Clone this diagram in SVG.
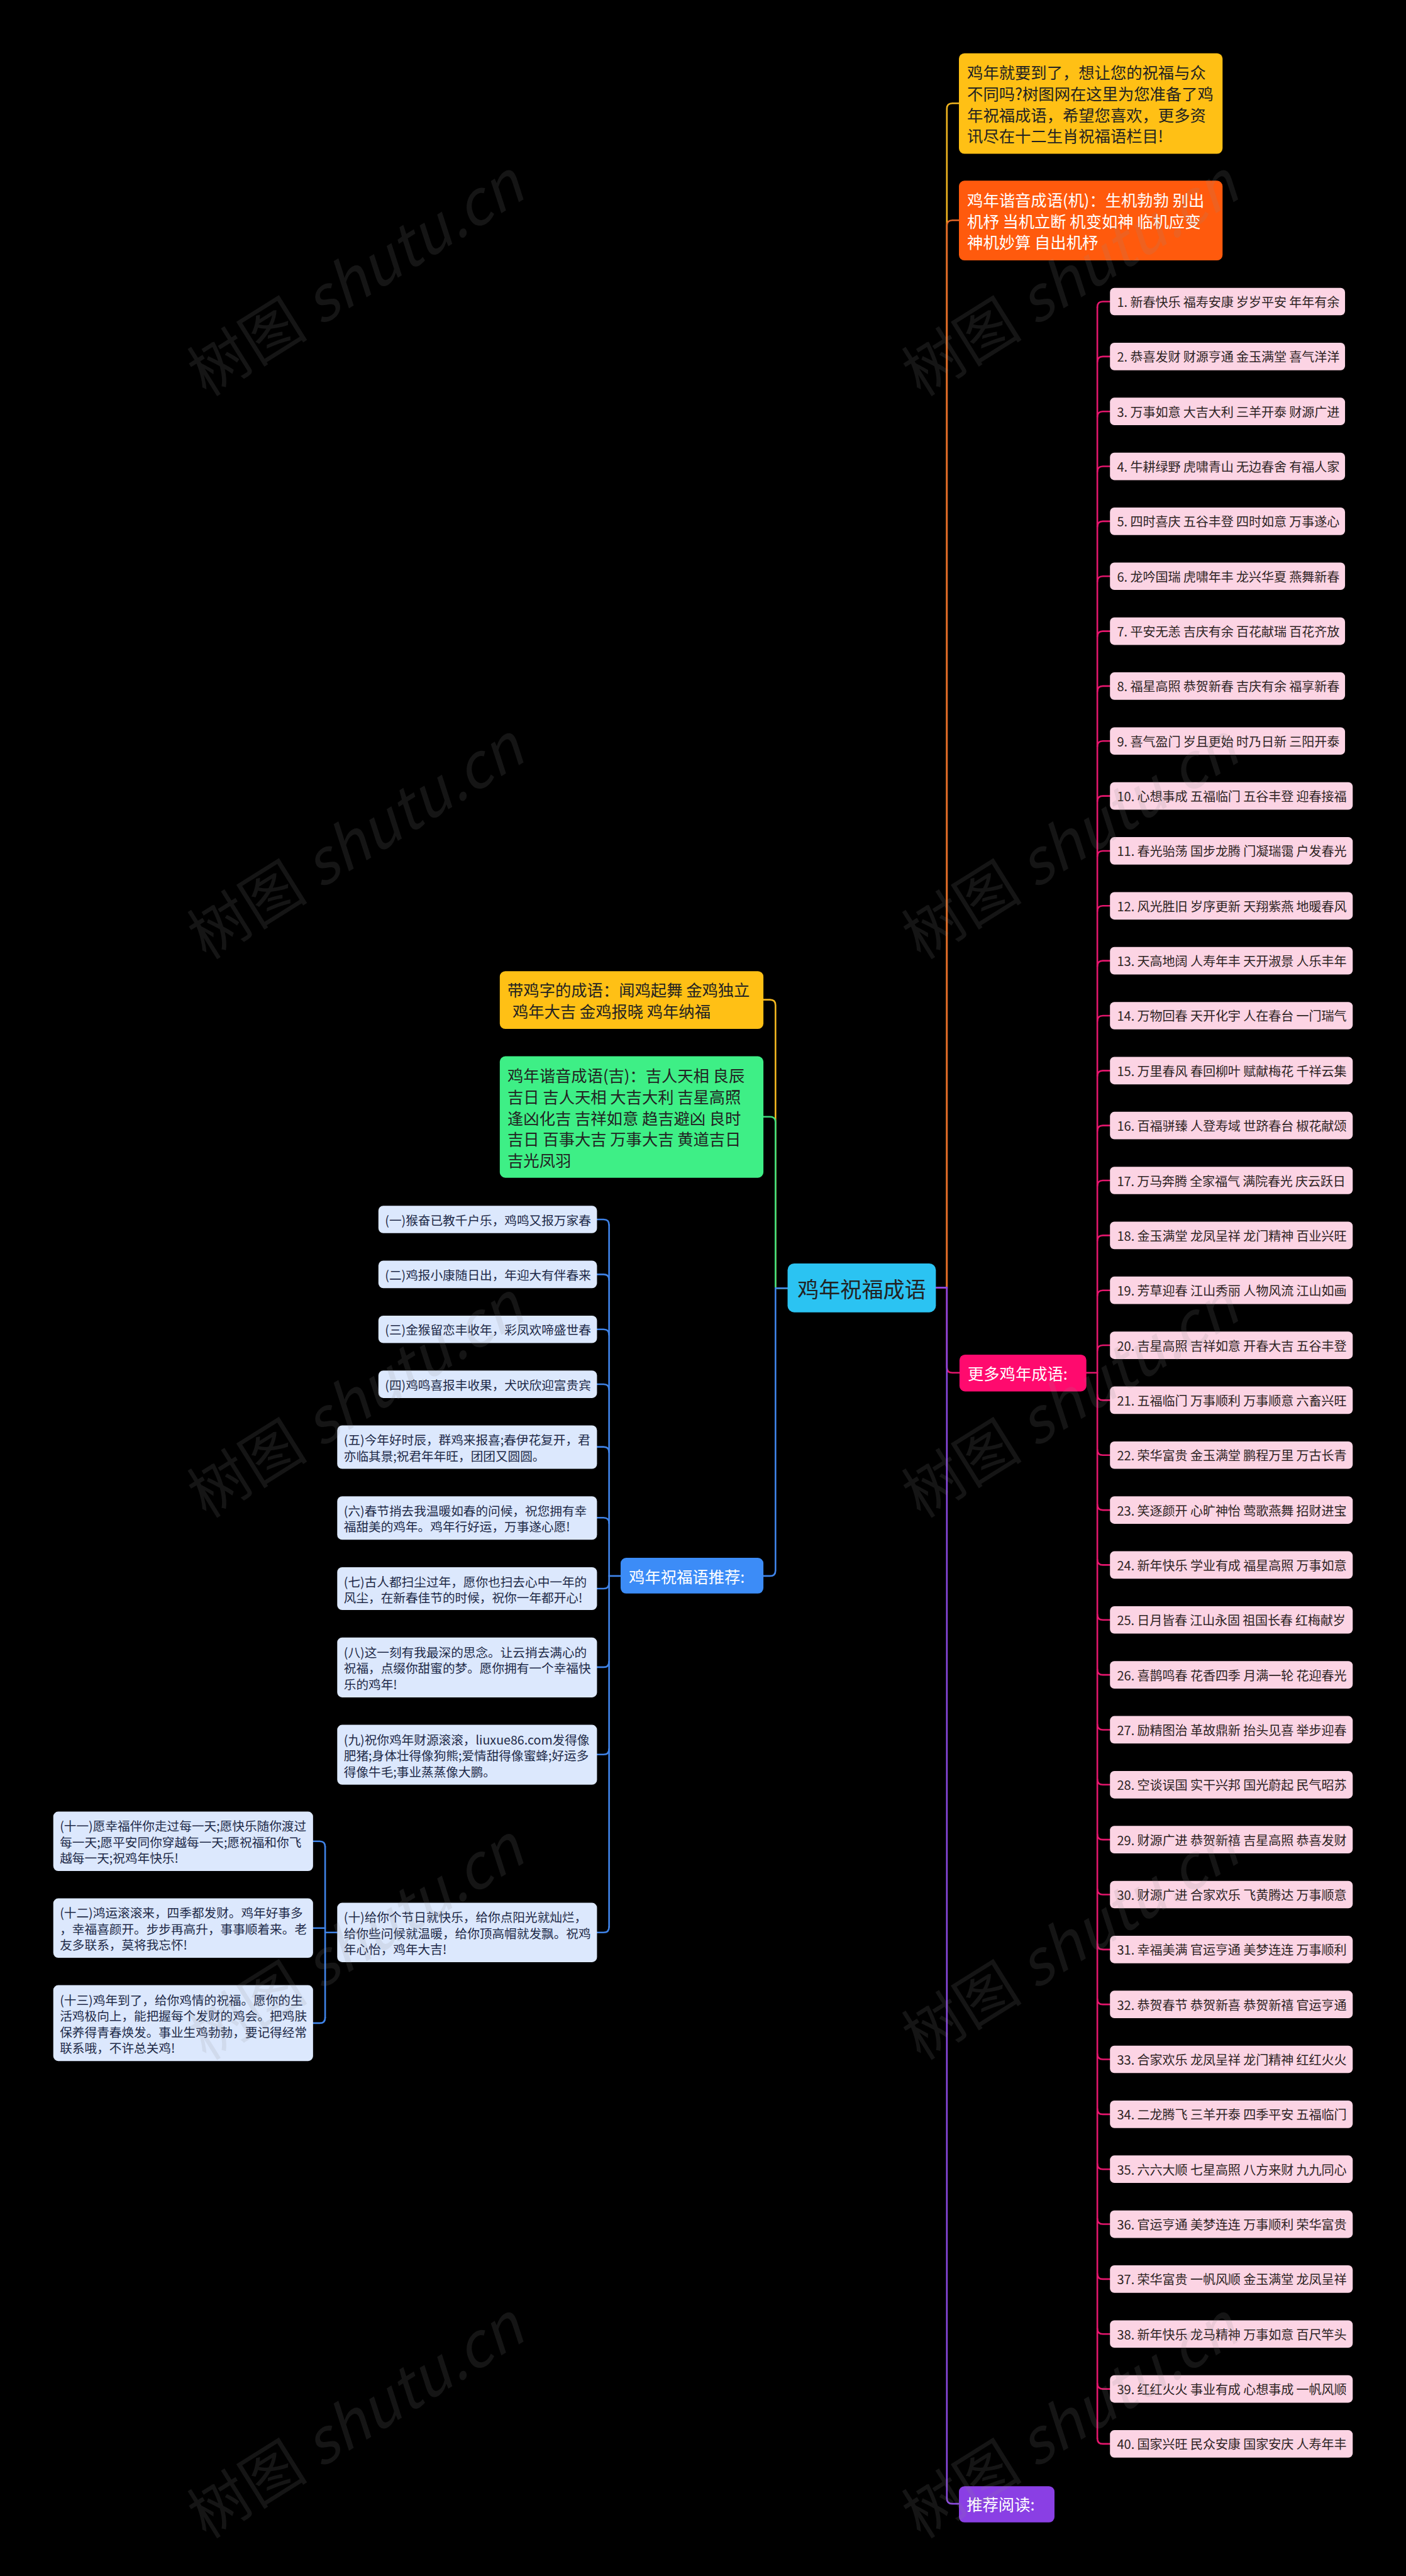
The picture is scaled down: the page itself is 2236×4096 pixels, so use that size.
<svg xmlns="http://www.w3.org/2000/svg" width="2236" height="4096" viewBox="0 0 2236 4096">
<style>
text{font-family:"Noto Sans CJK SC","Noto Sans",sans-serif;dominant-baseline:central}
.big{font-size:29px}
.dark{fill:#222}
.white{fill:#fff}
.kid{fill:#DCE8FD}
.kt{font-size:22.5px;fill:#1E2A48}
.it{fill:#FCD4E4}
.itt{font-size:23px;fill:#2E2424}
.c{fill:none;stroke-width:3;stroke-linecap:round}
.cy{stroke:#F2B620}.co{stroke:#E5682A}.cg{stroke:#3FDC7C}.cb{stroke:#3F83E8}.cp{stroke:#E3166C}.cv{stroke:#8A48E0}
.wm{font-family:"Liberation Serif","Noto Sans CJK SC",serif;font-size:110px;fill:#8a8a8a;fill-opacity:0.15}
</style>
<rect width="2236" height="4096" fill="#000"/>
<g transform="scale(0.8734375)">
<g id="connectors">
<path class="c cy" d="M1704,2344 H1724 V198 Q1724,188 1734,188 H1746"/>
<path class="c co" d="M1704,2344 H1724 V411 Q1724,401 1734,401 H1746"/>
<path class="c cp" d="M1704,2344 H1724 V2489 Q1724,2499 1734,2499 H1747"/>
<path class="c cv" d="M1704,2344 H1724 V4548 Q1724,4558 1734,4558 H1746"/>
<path class="c cy" d="M1434,2345 H1412 V1830 Q1412,1820 1402,1820 H1390"/>
<path class="c cg" d="M1434,2345 H1412 V2043 Q1412,2033 1402,2033 H1390"/>
<path class="c cb" d="M1434,2345 H1412 V2859 Q1412,2869 1402,2869 H1390"/>
<g class="c cb">
<path d="M1130,2869 H1109"/>
<path d="M1109,2230 V3508"/>
<path d="M1109,2230 Q1109,2220 1099,2220 H1087"/>
<path d="M1109,2330 Q1109,2320 1099,2320 H1087"/>
<path d="M1109,2430 Q1109,2420 1099,2420 H1087"/>
<path d="M1109,2530 Q1109,2520 1099,2520 H1087"/>
<path d="M1109,2644 Q1109,2634 1099,2634 H1087"/>
<path d="M1109,2773 Q1109,2763 1099,2763 H1087"/>
<path d="M1109,2882 Q1109,2892 1099,2892 H1087"/>
<path d="M1109,3025 Q1109,3035 1099,3035 H1087"/>
<path d="M1109,3184 Q1109,3194 1099,3194 H1087"/>
<path d="M1109,3508 Q1109,3518 1099,3518 H1087"/>
<path d="M614,3518 H592"/>
<path d="M592,3362 V3673"/>
<path d="M592,3362 Q592,3352 582,3352 H570"/>
<path d="M592,3510 H570"/>
<path d="M592,3673 Q592,3683 582,3683 H570"/>
</g>
<g class="c cp">
<path d="M1978,2499 H1998"/>
<path d="M1998,559 V4439"/>
<path d="M1998,559 Q1998,549 2008,549 H2021"/><path d="M1998,659 Q1998,649 2008,649 H2021"/><path d="M1998,759 Q1998,749 2008,749 H2021"/><path d="M1998,859 Q1998,849 2008,849 H2021"/><path d="M1998,959 Q1998,949 2008,949 H2021"/><path d="M1998,1059 Q1998,1049 2008,1049 H2021"/><path d="M1998,1159 Q1998,1149 2008,1149 H2021"/><path d="M1998,1259 Q1998,1249 2008,1249 H2021"/><path d="M1998,1359 Q1998,1349 2008,1349 H2021"/><path d="M1998,1459 Q1998,1449 2008,1449 H2021"/><path d="M1998,1559 Q1998,1549 2008,1549 H2021"/><path d="M1998,1659 Q1998,1649 2008,1649 H2021"/><path d="M1998,1759 Q1998,1749 2008,1749 H2021"/><path d="M1998,1859 Q1998,1849 2008,1849 H2021"/><path d="M1998,1959 Q1998,1949 2008,1949 H2021"/><path d="M1998,2059 Q1998,2049 2008,2049 H2021"/><path d="M1998,2159 Q1998,2149 2008,2149 H2021"/><path d="M1998,2259 Q1998,2249 2008,2249 H2021"/><path d="M1998,2359 Q1998,2349 2008,2349 H2021"/><path d="M1998,2459 Q1998,2449 2008,2449 H2021"/>
<path d="M1998,2539 Q1998,2549 2008,2549 H2021"/><path d="M1998,2639 Q1998,2649 2008,2649 H2021"/><path d="M1998,2739 Q1998,2749 2008,2749 H2021"/><path d="M1998,2839 Q1998,2849 2008,2849 H2021"/><path d="M1998,2939 Q1998,2949 2008,2949 H2021"/><path d="M1998,3039 Q1998,3049 2008,3049 H2021"/><path d="M1998,3139 Q1998,3149 2008,3149 H2021"/><path d="M1998,3239 Q1998,3249 2008,3249 H2021"/><path d="M1998,3339 Q1998,3349 2008,3349 H2021"/><path d="M1998,3439 Q1998,3449 2008,3449 H2021"/><path d="M1998,3539 Q1998,3549 2008,3549 H2021"/><path d="M1998,3639 Q1998,3649 2008,3649 H2021"/><path d="M1998,3739 Q1998,3749 2008,3749 H2021"/><path d="M1998,3839 Q1998,3849 2008,3849 H2021"/><path d="M1998,3939 Q1998,3949 2008,3949 H2021"/><path d="M1998,4039 Q1998,4049 2008,4049 H2021"/><path d="M1998,4139 Q1998,4149 2008,4149 H2021"/><path d="M1998,4239 Q1998,4249 2008,4249 H2021"/><path d="M1998,4339 Q1998,4349 2008,4349 H2021"/><path d="M1998,4439 Q1998,4449 2008,4449 H2021"/>
</g>
</g>

<g id="root"><rect x="1434" y="2300" width="270" height="89" rx="12" fill="#2BC3F2"/><text x="1569" y="2345" text-anchor="middle" font-size="39" class="dark">鸡年祝福成语</text></g>

<g id="intro"><rect x="1746" y="97" width="480" height="183" rx="10" fill="#FFC015"/>
<text class="big dark" x="1761"><tspan x="1761" y="131">鸡年就要到了，想让您的祝福与众</tspan><tspan x="1761" y="169.5">不同吗?树图网在这里为您准备了鸡</tspan><tspan x="1761" y="208">年祝福成语，希望您喜欢，更多资</tspan><tspan x="1761" y="246.5">讯尽在十二生肖祝福语栏目!</tspan></text></g>

<g id="ji-machine"><rect x="1746" y="329" width="480" height="145" rx="10" fill="#FF5A0D"/>
<text class="big white" x="1761"><tspan x="1761" y="363">鸡年谐音成语(机)：生机勃勃 别出</tspan><tspan x="1761" y="401.5">机杼 当机立断 机变如神 临机应变</tspan><tspan x="1761" y="440">神机妙算 自出机杼</tspan></text></g>

<g id="more"><rect x="1747" y="2466" width="231" height="67" rx="10" fill="#FF0A6E"/><text class="big white" x="1762" y="2499">更多鸡年成语:</text></g>

<g id="reading"><rect x="1746" y="4526" width="174" height="66" rx="10" fill="#8A3FE4"/><text class="big white" x="1760" y="4558">推荐阅读:</text></g>

<g id="ji-word"><rect x="910" y="1768" width="480" height="105" rx="10" fill="#FFC015"/>
<text class="big dark"><tspan x="924" y="1801">带鸡字的成语：闻鸡起舞 金鸡独立</tspan><tspan x="933" y="1840">鸡年大吉 金鸡报晓 鸡年纳福</tspan></text></g>

<g id="ji-luck"><rect x="910" y="1923" width="480" height="221" rx="10" fill="#3EEF86"/>
<text class="big dark"><tspan x="924" y="1957">鸡年谐音成语(吉)：吉人天相 良辰</tspan><tspan x="924" y="1995.5">吉日 吉人天相 大吉大利 吉星高照</tspan><tspan x="924" y="2034">逢凶化吉 吉祥如意 趋吉避凶 良时</tspan><tspan x="924" y="2072.5">吉日  百事大吉 万事大吉 黄道吉日</tspan><tspan x="924" y="2111">吉光凤羽</tspan></text></g>

<g id="wishes"><rect x="1130" y="2836" width="260" height="65" rx="10" fill="#3C8CF7"/><text class="big white" x="1145" y="2869">鸡年祝福语推荐:</text></g>

<g id="w1"><rect class="kid" x="689" y="2195" width="398" height="50" rx="9"/><text class="kt" x="701" y="2220">(一)猴奋已教千户乐，鸡鸣又报万家春</text></g>
<g id="w2"><rect class="kid" x="689" y="2295" width="398" height="50" rx="9"/><text class="kt" x="701" y="2320">(二)鸡报小康随日出，年迎大有伴春来</text></g>
<g id="w3"><rect class="kid" x="689" y="2395" width="398" height="50" rx="9"/><text class="kt" x="701" y="2420">(三)金猴留恋丰收年，彩凤欢啼盛世春</text></g>
<g id="w4"><rect class="kid" x="689" y="2495" width="398" height="50" rx="9"/><text class="kt" x="701" y="2520">(四)鸡鸣喜报丰收果，犬吠欣迎富贵宾</text></g>
<g id="w5"><rect class="kid" x="614" y="2595" width="473" height="79" rx="9"/><text class="kt"><tspan x="626" y="2620">(五)今年好时辰，群鸡来报喜;春伊花复开，君</tspan><tspan x="626" y="2649">亦临其景;祝君年年旺，团团又圆圆。</tspan></text></g>
<g id="w6"><rect class="kid" x="614" y="2724" width="473" height="79" rx="9"/><text class="kt"><tspan x="626" y="2749">(六)春节捎去我温暖如春的问候，祝您拥有幸</tspan><tspan x="626" y="2778">福甜美的鸡年。鸡年行好运，万事遂心愿!</tspan></text></g>
<g id="w7"><rect class="kid" x="614" y="2853" width="473" height="78" rx="9"/><text class="kt"><tspan x="626" y="2878">(七)古人都扫尘过年，愿你也扫去心中一年的</tspan><tspan x="626" y="2907">风尘，在新春佳节的时候，祝你一年都开心!</tspan></text></g>
<g id="w8"><rect class="kid" x="614" y="2981" width="473" height="109" rx="9"/><text class="kt"><tspan x="626" y="3006.5">(八)这一刻有我最深的思念。让云捎去满心的</tspan><tspan x="626" y="3035.5">祝福，点缀你甜蜜的梦。愿你拥有一个幸福快</tspan><tspan x="626" y="3064.5">乐的鸡年!</tspan></text></g>
<g id="w9"><rect class="kid" x="614" y="3140" width="473" height="109" rx="9"/><text class="kt"><tspan x="626" y="3165.5">(九)祝你鸡年财源滚滚，liuxue86.com发得像</tspan><tspan x="626" y="3194.5">肥猪;身体壮得像狗熊;爱情甜得像蜜蜂;好运多</tspan><tspan x="626" y="3223.5">得像牛毛;事业蒸蒸像大鹏。</tspan></text></g>
<g id="w10"><rect class="kid" x="614" y="3464" width="473" height="108" rx="9"/><text class="kt"><tspan x="626" y="3489">(十)给你个节日就快乐，给你点阳光就灿烂，</tspan><tspan x="626" y="3518">给你些问候就温暖，给你顶高帽就发飘。祝鸡</tspan><tspan x="626" y="3547">年心怡，鸡年大吉!</tspan></text></g>
<g id="w11"><rect class="kid" x="97" y="3298" width="473" height="108" rx="9"/><text class="kt"><tspan x="109" y="3323">(十一)愿幸福伴你走过每一天;愿快乐随你渡过</tspan><tspan x="109" y="3352">每一天;愿平安同你穿越每一天;愿祝福和你飞</tspan><tspan x="109" y="3381">越每一天;祝鸡年快乐!</tspan></text></g>
<g id="w12"><rect class="kid" x="97" y="3456" width="473" height="108" rx="9"/><text class="kt"><tspan x="109" y="3481">(十二)鸿运滚滚来，四季都发财。鸡年好事多</tspan><tspan x="109" y="3510">，幸福喜颜开。步步再高升，事事顺着来。老</tspan><tspan x="109" y="3539">友多联系，莫将我忘怀!</tspan></text></g>
<g id="w13"><rect class="kid" x="97" y="3614" width="473" height="138" rx="9"/><text class="kt"><tspan x="109" y="3639.5">(十三)鸡年到了，给你鸡情的祝福。愿你的生</tspan><tspan x="109" y="3668.5">活鸡极向上，能把握每个发财的鸡会。把鸡肤</tspan><tspan x="109" y="3697.5">保养得青春焕发。事业生鸡勃勃，要记得经常</tspan><tspan x="109" y="3726.5">联系哦，不许总关鸡!</tspan></text></g>

<g id="i1"><rect class="it" x="2021" y="524" width="428" height="50" rx="8"/><text class="itt" x="2034" y="549" textLength="405" lengthAdjust="spacing">1. 新春快乐 福寿安康 岁岁平安 年年有余</text></g>
<g id="i2"><rect class="it" x="2021" y="624" width="428" height="50" rx="8"/><text class="itt" x="2034" y="649" textLength="405" lengthAdjust="spacing">2. 恭喜发财 财源亨通 金玉满堂 喜气洋洋</text></g>
<g id="i3"><rect class="it" x="2021" y="724" width="428" height="50" rx="8"/><text class="itt" x="2034" y="749" textLength="405" lengthAdjust="spacing">3. 万事如意 大吉大利 三羊开泰 财源广进</text></g>
<g id="i4"><rect class="it" x="2021" y="824" width="428" height="50" rx="8"/><text class="itt" x="2034" y="849" textLength="405" lengthAdjust="spacing">4. 牛耕绿野 虎啸青山 无边春舍 有福人家</text></g>
<g id="i5"><rect class="it" x="2021" y="924" width="428" height="50" rx="8"/><text class="itt" x="2034" y="949" textLength="405" lengthAdjust="spacing">5. 四时喜庆 五谷丰登 四时如意 万事遂心</text></g>
<g id="i6"><rect class="it" x="2021" y="1024" width="428" height="50" rx="8"/><text class="itt" x="2034" y="1049" textLength="405" lengthAdjust="spacing">6. 龙吟国瑞 虎啸年丰 龙兴华夏 燕舞新春</text></g>
<g id="i7"><rect class="it" x="2021" y="1124" width="428" height="50" rx="8"/><text class="itt" x="2034" y="1149" textLength="405" lengthAdjust="spacing">7. 平安无恙 吉庆有余 百花献瑞 百花齐放</text></g>
<g id="i8"><rect class="it" x="2021" y="1224" width="428" height="50" rx="8"/><text class="itt" x="2034" y="1249" textLength="405" lengthAdjust="spacing">8. 福星高照 恭贺新春 吉庆有余 福享新春</text></g>
<g id="i9"><rect class="it" x="2021" y="1324" width="428" height="50" rx="8"/><text class="itt" x="2034" y="1349" textLength="405" lengthAdjust="spacing">9. 喜气盈门 岁且更始 时乃日新 三阳开泰</text></g>
<g id="i10"><rect class="it" x="2021" y="1424" width="442" height="50" rx="8"/><text class="itt" x="2034" y="1449" textLength="418" lengthAdjust="spacing">10. 心想事成 五福临门 五谷丰登 迎春接福</text></g>
<g id="i11"><rect class="it" x="2021" y="1524" width="442" height="50" rx="8"/><text class="itt" x="2034" y="1549" textLength="418" lengthAdjust="spacing">11. 春光骀荡 国步龙腾 门凝瑞霭 户发春光</text></g>
<g id="i12"><rect class="it" x="2021" y="1624" width="442" height="50" rx="8"/><text class="itt" x="2034" y="1649" textLength="418" lengthAdjust="spacing">12. 风光胜旧 岁序更新 天翔紫燕 地暖春风</text></g>
<g id="i13"><rect class="it" x="2021" y="1724" width="442" height="50" rx="8"/><text class="itt" x="2034" y="1749" textLength="418" lengthAdjust="spacing">13. 天高地阔 人寿年丰 天开淑景 人乐丰年</text></g>
<g id="i14"><rect class="it" x="2021" y="1824" width="442" height="50" rx="8"/><text class="itt" x="2034" y="1849" textLength="418" lengthAdjust="spacing">14. 万物回春 天开化宇 人在春台 一门瑞气</text></g>
<g id="i15"><rect class="it" x="2021" y="1924" width="442" height="50" rx="8"/><text class="itt" x="2034" y="1949" textLength="418" lengthAdjust="spacing">15. 万里春风 春回柳叶 赋献梅花 千祥云集</text></g>
<g id="i16"><rect class="it" x="2021" y="2024" width="442" height="50" rx="8"/><text class="itt" x="2034" y="2049" textLength="418" lengthAdjust="spacing">16. 百福骈臻 人登寿域 世跻春台 椒花献颂</text></g>
<g id="i17"><rect class="it" x="2021" y="2124" width="442" height="50" rx="8"/><text class="itt" x="2034" y="2149" textLength="416" lengthAdjust="spacing">17. 万马奔腾 全家福气 满院春光 庆云跃日</text></g>
<g id="i18"><rect class="it" x="2021" y="2224" width="442" height="50" rx="8"/><text class="itt" x="2034" y="2249" textLength="418" lengthAdjust="spacing">18. 金玉满堂 龙凤呈祥 龙门精神 百业兴旺</text></g>
<g id="i19"><rect class="it" x="2021" y="2324" width="442" height="50" rx="8"/><text class="itt" x="2034" y="2349" textLength="418" lengthAdjust="spacing">19. 芳草迎春 江山秀丽 人物风流 江山如画</text></g>
<g id="i20"><rect class="it" x="2021" y="2424" width="442" height="50" rx="8"/><text class="itt" x="2034" y="2449" textLength="418" lengthAdjust="spacing">20. 吉星高照 吉祥如意 开春大吉 五谷丰登</text></g>
<g id="i21"><rect class="it" x="2021" y="2524" width="442" height="50" rx="8"/><text class="itt" x="2034" y="2549" textLength="418" lengthAdjust="spacing">21. 五福临门 万事顺利 万事顺意 六畜兴旺</text></g>
<g id="i22"><rect class="it" x="2021" y="2624" width="442" height="50" rx="8"/><text class="itt" x="2034" y="2649" textLength="418" lengthAdjust="spacing">22. 荣华富贵 金玉满堂 鹏程万里 万古长青</text></g>
<g id="i23"><rect class="it" x="2021" y="2724" width="442" height="50" rx="8"/><text class="itt" x="2034" y="2749" textLength="418" lengthAdjust="spacing">23. 笑逐颜开 心旷神怡 莺歌燕舞 招财进宝</text></g>
<g id="i24"><rect class="it" x="2021" y="2824" width="442" height="50" rx="8"/><text class="itt" x="2034" y="2849" textLength="418" lengthAdjust="spacing">24. 新年快乐 学业有成 福星高照 万事如意</text></g>
<g id="i25"><rect class="it" x="2021" y="2924" width="442" height="50" rx="8"/><text class="itt" x="2034" y="2949" textLength="416" lengthAdjust="spacing">25. 日月皆春 江山永固 祖国长春 红梅献岁</text></g>
<g id="i26"><rect class="it" x="2021" y="3024" width="442" height="50" rx="8"/><text class="itt" x="2034" y="3049" textLength="418" lengthAdjust="spacing">26. 喜鹊鸣春 花香四季 月满一轮 花迎春光</text></g>
<g id="i27"><rect class="it" x="2021" y="3124" width="442" height="50" rx="8"/><text class="itt" x="2034" y="3149" textLength="418" lengthAdjust="spacing">27. 励精图治 革故鼎新 抬头见喜 举步迎春</text></g>
<g id="i28"><rect class="it" x="2021" y="3224" width="442" height="50" rx="8"/><text class="itt" x="2034" y="3249" textLength="418" lengthAdjust="spacing">28. 空谈误国 实干兴邦 国光蔚起 民气昭苏</text></g>
<g id="i29"><rect class="it" x="2021" y="3324" width="442" height="50" rx="8"/><text class="itt" x="2034" y="3349" textLength="418" lengthAdjust="spacing">29. 财源广进 恭贺新禧 吉星高照 恭喜发财</text></g>
<g id="i30"><rect class="it" x="2021" y="3424" width="442" height="50" rx="8"/><text class="itt" x="2034" y="3449" textLength="418" lengthAdjust="spacing">30. 财源广进 合家欢乐 飞黄腾达 万事顺意</text></g>
<g id="i31"><rect class="it" x="2021" y="3524" width="442" height="50" rx="8"/><text class="itt" x="2034" y="3549" textLength="418" lengthAdjust="spacing">31. 幸福美满 官运亨通 美梦连连 万事顺利</text></g>
<g id="i32"><rect class="it" x="2021" y="3624" width="442" height="50" rx="8"/><text class="itt" x="2034" y="3649" textLength="418" lengthAdjust="spacing">32. 恭贺春节 恭贺新喜 恭贺新禧 官运亨通</text></g>
<g id="i33"><rect class="it" x="2021" y="3724" width="442" height="50" rx="8"/><text class="itt" x="2034" y="3749" textLength="418" lengthAdjust="spacing">33. 合家欢乐 龙凤呈祥 龙门精神 红红火火</text></g>
<g id="i34"><rect class="it" x="2021" y="3824" width="442" height="50" rx="8"/><text class="itt" x="2034" y="3849" textLength="418" lengthAdjust="spacing">34. 二龙腾飞 三羊开泰 四季平安 五福临门</text></g>
<g id="i35"><rect class="it" x="2021" y="3924" width="442" height="50" rx="8"/><text class="itt" x="2034" y="3949" textLength="418" lengthAdjust="spacing">35. 六六大顺 七星高照 八方来财 九九同心</text></g>
<g id="i36"><rect class="it" x="2021" y="4024" width="442" height="50" rx="8"/><text class="itt" x="2034" y="4049" textLength="418" lengthAdjust="spacing">36. 官运亨通 美梦连连 万事顺利 荣华富贵</text></g>
<g id="i37"><rect class="it" x="2021" y="4124" width="442" height="50" rx="8"/><text class="itt" x="2034" y="4149" textLength="418" lengthAdjust="spacing">37. 荣华富贵 一帆风顺 金玉满堂 龙凤呈祥</text></g>
<g id="i38"><rect class="it" x="2021" y="4224" width="442" height="50" rx="8"/><text class="itt" x="2034" y="4249" textLength="418" lengthAdjust="spacing">38. 新年快乐 龙马精神 万事如意 百尺竿头</text></g>
<g id="i39"><rect class="it" x="2021" y="4324" width="442" height="50" rx="8"/><text class="itt" x="2034" y="4349" textLength="418" lengthAdjust="spacing">39. 红红火火 事业有成 心想事成 一帆风顺</text></g>
<g id="i40"><rect class="it" x="2021" y="4424" width="442" height="50" rx="8"/><text class="itt" x="2034" y="4449" textLength="418" lengthAdjust="spacing">40. 国家兴旺 民众安康 国家安庆 人寿年丰</text></g>

<g id="watermark" class="wm" text-anchor="middle">
<text transform="translate(643,500) rotate(-32)">树图 <tspan font-style="italic">shutu.cn</tspan></text>
<text transform="translate(1944,500) rotate(-32)">树图 <tspan font-style="italic">shutu.cn</tspan></text>
<text transform="translate(643,1525) rotate(-32)">树图 <tspan font-style="italic">shutu.cn</tspan></text>
<text transform="translate(1944,1525) rotate(-32)">树图 <tspan font-style="italic">shutu.cn</tspan></text>
<text transform="translate(643,2542) rotate(-32)">树图 <tspan font-style="italic">shutu.cn</tspan></text>
<text transform="translate(1944,2542) rotate(-32)">树图 <tspan font-style="italic">shutu.cn</tspan></text>
<text transform="translate(643,3529) rotate(-32)">树图 <tspan font-style="italic">shutu.cn</tspan></text>
<text transform="translate(1944,3529) rotate(-32)">树图 <tspan font-style="italic">shutu.cn</tspan></text>
<text transform="translate(643,4400) rotate(-32)">树图 <tspan font-style="italic">shutu.cn</tspan></text>
<text transform="translate(1944,4400) rotate(-32)">树图 <tspan font-style="italic">shutu.cn</tspan></text>
</g>
</g>
</svg>
